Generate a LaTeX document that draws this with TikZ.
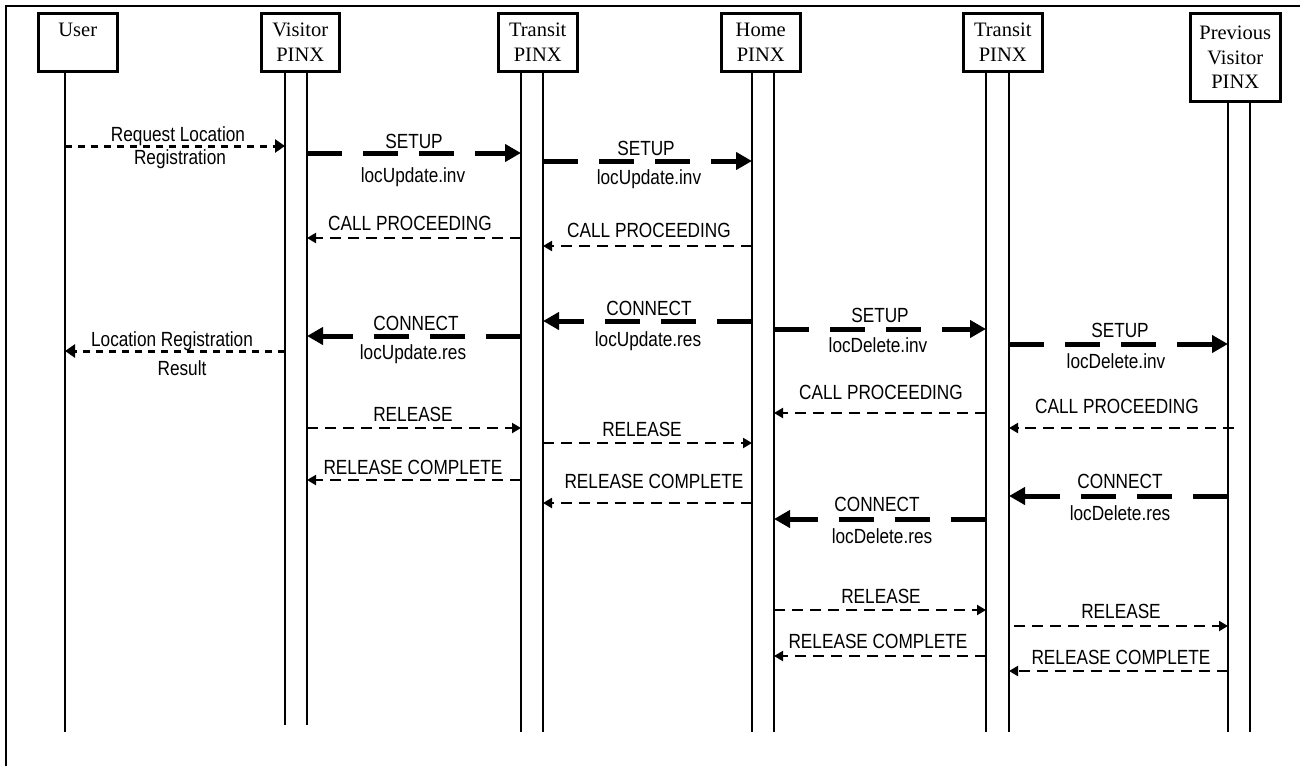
\documentclass[tikz,border=0pt]{standalone}
\usepackage{fontspec}
\setmainfont{Liberation Serif}
\newfontfamily\narrowsans[FakeStretch=0.84]{Liberation Sans}
\usetikzlibrary{arrows.meta}
\begin{document}
\begin{tikzpicture}[x=1pt,y=-1pt,
 frameline/.style={line width=2pt},
 ent/.style={draw, line width=2.5pt, inner sep=0pt, align=center,
   font=\fontsize{20.5}{24.5}\selectfont, anchor=north west},
 life/.style={line width=2pt},
 msg/.style={font=\narrowsans\fontsize{20.5}{23}\selectfont, inner sep=0pt, anchor=base},
 msgthin/.style={line width=2pt, dash pattern=on 11pt off 7pt, -{Triangle[length=9pt,width=10pt]}},
 msgthick/.style={line width=5pt, dash pattern=on 35pt off 21pt, -{Triangle[length=16pt,width=17pt]}},
 msgdot/.style={line width=3pt, dash pattern=on 7pt off 6pt, -{Triangle[length=10pt,width=13pt]}},
]
\useasboundingbox (0,0) rectangle (1300,766);
% frame
\coordinate (fTL) at (6,6);
\coordinate (fTR) at (1300,6);
\coordinate (fBL) at (6,766);
\draw[frameline] (fTR) -- (fTL) -- (fBL);

% entities
\node[ent, minimum width=79pt, minimum height=58pt] (user) at (37,12) {User\\\phantom{PINX}};
\node[ent, minimum width=78pt, minimum height=58pt] (visitor) at (260,12) {Visitor\\PINX};
\node[ent, minimum width=79pt, minimum height=58pt] (transitA) at (497,12) {Transit\\PINX};
\node[ent, minimum width=79pt, minimum height=58pt] (home) at (720,12) {Home\\PINX};
\node[ent, minimum width=79pt, minimum height=58pt] (transitB) at (962,12) {Transit\\PINX};
\node[ent, minimum width=90pt, minimum height=88pt] (prev) at (1189,12) {Previous\\Visitor\\PINX};

% lifeline coordinates
\coordinate (uL) at (65,70);
\coordinate (vA) at (285,70);
\coordinate (vB) at (307,70);
\coordinate (t1A) at (521,70);
\coordinate (t1B) at (543,70);
\coordinate (hA) at (752,70);
\coordinate (hB) at (774,70);
\coordinate (t2A) at (986,70);
\coordinate (t2B) at (1009,70);
\coordinate (pA) at (1228,100);
\coordinate (pB) at (1250,100);

\draw[life] (uL) -- (uL |- 0,732);
\draw[life] (vA) -- (vA |- 0,725);
\draw[life] (vB) -- (vB |- 0,725);
\draw[life] (t1A) -- (t1A |- 0,732);
\draw[life] (t1B) -- (t1B |- 0,732);
\draw[life] (hA) -- (hA |- 0,732);
\draw[life] (hB) -- (hB |- 0,732);
\draw[life] (t2A) -- (t2A |- 0,732);
\draw[life] (t2B) -- (t2B |- 0,732);
\draw[life] (pA) -- (pA |- 0,732);
\draw[life] (pB) -- (pB |- 0,732);

% 1 Request Location Registration
\draw[msgdot] (uL |- 0,146) -- (vA |- 0,146);
\node[msg] (m1a) at (178,141) {Request Location};
\node[msg] (m1b) at (180,164) {Registration};
% 2 SETUP
\draw[msgthick] (vB |- 0,153) -- (t1A |- 0,153);
\node[msg] (m2a) at (414,148) {SETUP};
\node[msg] (m2b) at (413,182) {locUpdate.inv};
% 3 SETUP
\draw[msgthick] (t1B |- 0,161) -- (hA |- 0,161);
\node[msg] (m3a) at (646,155) {SETUP};
\node[msg] (m3b) at (649,184) {locUpdate.inv};
% 4 CALL PROCEEDING
\draw[msgthin] (t1A |- 0,238) -- (vB |- 0,238);
\node[msg] (m4) at (410,230) {CALL PROCEEDING};
% 5 CALL PROCEEDING
\draw[msgthin] (hA |- 0,246) -- (t1B |- 0,246);
\node[msg] (m5) at (649,237) {CALL PROCEEDING};
% 6 CONNECT
\draw[msgthick] (t1A |- 0,336) -- (vB |- 0,336);
\node[msg] (m6a) at (416,330) {CONNECT};
\node[msg] (m6b) at (413,359) {locUpdate.res};
% 7 Location Registration Result
\draw[msgdot] (vA |- 0,351) -- (uL |- 0,351);
\node[msg] (m7a) at (172,346) {Location Registration};
\node[msg] (m7b) at (182,375) {Result};
% 8 CONNECT
\draw[msgthick] (hA |- 0,321) -- (t1B |- 0,321);
\node[msg] (m8a) at (649,315) {CONNECT};
\node[msg] (m8b) at (648,346.5) {locUpdate.res};
% 9 SETUP locDelete
\draw[msgthick] (hB |- 0,329) -- (t2A |- 0,329);
\node[msg] (m9a) at (880,322) {SETUP};
\node[msg] (m9b) at (878,352) {locDelete.inv};
% 10 SETUP locDelete
\draw[msgthick] (t2B |- 0,344) -- (pA |- 0,344);
\node[msg] (m10a) at (1120,337.5) {SETUP};
\node[msg] (m10b) at (1116,368) {locDelete.inv};
% 11 CALL PROCEEDING
\draw[msgthin] (t2A |- 0,413) -- (hB |- 0,413);
\node[msg] (m11) at (881,399) {CALL PROCEEDING};
% 12 CALL PROCEEDING
\draw[msgthin] ([xshift=6pt]pA |- 0,428) -- (t2B |- 0,428);
\node[msg] (m12) at (1117,413) {CALL PROCEEDING};
% 13 RELEASE
\draw[msgthin] (vB |- 0,428) -- (t1A |- 0,428);
\node[msg] (m13) at (413,421.5) {RELEASE};
% 14 RELEASE
\draw[msgthin] (t1B |- 0,443) -- (hA |- 0,443);
\node[msg] (m14) at (642,436.5) {RELEASE};
% 15 RELEASE COMPLETE
\draw[msgthin] (t1A |- 0,480) -- (vB |- 0,480);
\node[msg] (m15) at (413,474) {RELEASE COMPLETE};
% 16 RELEASE COMPLETE
\draw[msgthin] (hA |- 0,503) -- (t1B |- 0,503);
\node[msg] (m16) at (654,488) {RELEASE COMPLETE};
% 17 CONNECT locDelete
\draw[msgthick] (pA |- 0,496) -- (t2B |- 0,496);
\node[msg] (m17a) at (1120,488) {CONNECT};
\node[msg] (m17b) at (1120,520) {locDelete.res};
% 18 CONNECT locDelete
\draw[msgthick] (t2A |- 0,519) -- (hB |- 0,519);
\node[msg] (m18a) at (877,511.5) {CONNECT};
\node[msg] (m18b) at (882,543) {locDelete.res};
% 19 RELEASE
\draw[msgthin] (hB |- 0,610) -- (t2A |- 0,610);
\node[msg] (m19) at (881,603) {RELEASE};
% 20 RELEASE
\draw[msgthin] ([xshift=5pt]t2B |- 0,626) -- (pA |- 0,626);
\node[msg] (m20) at (1121,618) {RELEASE};
% 21 RELEASE COMPLETE
\draw[msgthin] (t2A |- 0,656) -- (hB |- 0,656);
\node[msg] (m21) at (878,648) {RELEASE COMPLETE};
% 22 RELEASE COMPLETE
\draw[msgthin] (pA |- 0,671) -- (t2B |- 0,671);
\node[msg] (m22) at (1121,664) {RELEASE COMPLETE};
\end{tikzpicture}
\end{document}
